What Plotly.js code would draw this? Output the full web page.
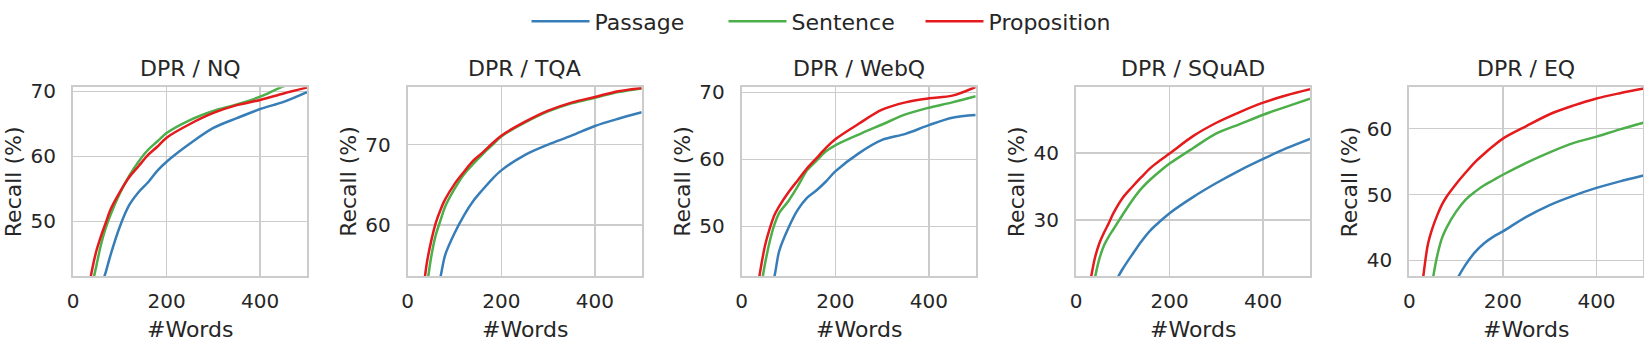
<!DOCTYPE html>
<html>
<head>
<meta charset="utf-8">
<script src="https://cdn.plot.ly/plotly-3.0.1.min.js"></script>
<style>html,body{margin:0;padding:0;background:#fff;}#chart{width:1644px;height:343px;}</style>
</head>
<body>
<div id="chart"></div>
<script>
// ---- data ----
const words = [30, 40, 50, 60, 70, 80, 100, 120, 140, 160, 180, 200, 250, 300, 350, 400, 450, 500];
const seriesNames = ["Passage", "Sentence", "Proposition"];
const panelTitles = ["DPR / NQ", "DPR / TQA", "DPR / WebQ", "DPR / SQuAD", "DPR / EQ"];

const nqPassage     = [30, 34, 37, 40, 42.2, 44.8, 49.2, 52.5, 54.5, 56.0, 57.8, 59.2, 62.0, 64.4, 65.9, 67.3, 68.4, 69.9];
const nqSentence    = [35, 39.8, 43.2, 46.5, 49.0, 51.0, 54.3, 57.0, 59.2, 61.0, 62.3, 63.6, 65.6, 67.0, 68.0, 69.2, 70.8, 71.8];
const nqProposition = [38, 42.3, 45.5, 47.8, 49.8, 51.8, 54.5, 56.8, 58.5, 60.2, 61.5, 62.9, 65.0, 66.7, 67.9, 68.7, 69.7, 70.6];

const tqaPassage     = [44, 47, 49.5, 51.5, 53.6, 56.3, 59.0, 61.2, 63.0, 64.4, 65.7, 66.8, 68.7, 70.0, 71.1, 72.3, 73.2, 74.0];
const tqaSentence    = [47.5, 52.0, 56.0, 58.8, 60.6, 62.3, 64.5, 66.3, 67.6, 68.8, 69.9, 71.0, 72.7, 74.1, 75.1, 75.8, 76.5, 76.95];
const tqaProposition = [50.0, 55.0, 58.0, 60.3, 61.9, 63.2, 65.1, 66.6, 68.0, 69.0, 70.1, 71.1, 72.8, 74.2, 75.2, 75.9, 76.6, 77.0];

const webqPassage     = [33, 36, 38.5, 40.5, 42.6, 46.3, 49.8, 52.5, 54.3, 55.4, 56.7, 58.2, 60.9, 62.9, 63.8, 65.1, 66.2, 66.6];
const webqSentence    = [37, 40.5, 44.5, 47.8, 50.3, 52.0, 53.8, 56.0, 58.4, 59.8, 61.2, 62.1, 63.7, 65.2, 66.7, 67.7, 68.5, 69.4];
const webqProposition = [39, 43.5, 47.2, 49.7, 51.7, 53.0, 55.1, 56.9, 58.7, 60.2, 61.7, 63.0, 65.3, 67.4, 68.5, 69.1, 69.5, 70.8];

const squadPassage     = [14, 16, 17.5, 18.5, 19.3, 20.3, 22.7, 24.8, 26.8, 28.5, 29.8, 31.0, 33.4, 35.5, 37.4, 39.1, 40.7, 42.1];
const squadSentence    = [17.5, 21.2, 24.2, 26.2, 27.5, 28.6, 30.8, 32.9, 34.7, 36.1, 37.3, 38.4, 40.7, 42.9, 44.3, 45.7, 46.9, 48.1];
const squadProposition = [20.5, 24.2, 26.5, 28.1, 29.5, 31.0, 33.3, 34.9, 36.4, 37.8, 38.9, 39.9, 42.5, 44.5, 46.1, 47.5, 48.6, 49.5];

const eqPassage     = [22, 25, 27.5, 29.5, 31.2, 33.0, 36.8, 39.3, 41.2, 42.6, 43.6, 44.4, 46.6, 48.4, 49.8, 51.0, 52.0, 52.9];
const eqSentence    = [28, 32, 37.0, 40.8, 43.4, 45.0, 47.4, 49.2, 50.4, 51.4, 52.2, 53.0, 54.8, 56.4, 57.8, 58.8, 59.9, 60.9];
const eqProposition = [37.6, 42.5, 45.0, 46.9, 48.5, 49.7, 51.6, 53.3, 54.9, 56.2, 57.4, 58.5, 60.4, 62.2, 63.5, 64.6, 65.4, 66.1];

const panelData = [
  [nqPassage, nqSentence, nqProposition],
  [tqaPassage, tqaSentence, tqaProposition],
  [webqPassage, webqSentence, webqProposition],
  [squadPassage, squadSentence, squadProposition],
  [eqPassage, eqSentence, eqProposition]
];
const yRanges = [[41.6, 70.65], [53.7, 77.1], [42.6, 70.75], [21.6, 49.8], [37.6, 66.3]];
const xTicks = [0, 200, 400];

// ---- style / layout ----
const W = 1644, H = 343;
const colors = ["#377eb8", "#4daf4a", "#e41a1c"];
const textColor = "#262626";
const gridColor = "#cccccc";
const font = "DejaVu Sans";
const panelLeft = [73, 407.7, 741.7, 1076, 1409.3];
const panelWidth = 234;
const yDom = [1 - 275.5 / H, 1 - 85 / H];

const traces = [];
const layout = {
  width: W, height: H,
  margin: {l: 0, r: 0, t: 0, b: 0, pad: 0},
  paper_bgcolor: "#ffffff", plot_bgcolor: "#ffffff",
  font: {family: font, color: textColor, size: 20},
  showlegend: true,
  legend: {
    orientation: "h", x: 0.5, xanchor: "center", y: 1 - 18.5 / H, yanchor: "middle",
    font: {family: font, size: 22, color: textColor},
    itemwidth: 58, entrywidth: 124, entrywidthmode: "pixels",
    traceorder: "normal", bgcolor: "rgba(0,0,0,0)"
  },
  annotations: []
};

panelData.forEach((series, p) => {
  const ax = p === 0 ? "" : String(p + 1);
  series.forEach((vals, s) => {
    traces.push({
      x: words, y: vals, type: "scatter", mode: "lines",
      name: seriesNames[s], legendgroup: seriesNames[s], showlegend: p === 0,
      line: {color: colors[s], width: 2.5, shape: "spline", smoothing: 0.9},
      xaxis: "x" + ax, yaxis: "y" + ax, hoverinfo: "x+y+name"
    });
  });
  const axisCommon = {
    showgrid: true, gridcolor: gridColor, gridwidth: 1.5,
    showline: true, linecolor: gridColor, linewidth: 2, mirror: true,
    zeroline: false, ticks: "", tickfont: {family: font, size: 20, color: textColor},
    fixedrange: true
  };
  layout["xaxis" + ax] = Object.assign({}, axisCommon, {
    domain: [panelLeft[p] / W, (panelLeft[p] + panelWidth) / W],
    range: [0, 500], tickvals: xTicks, ticktext: xTicks.map(String),
    anchor: "y" + ax, ticklabelstandoff: 6
  });
  layout["yaxis" + ax] = Object.assign({}, axisCommon, {
    domain: yDom, range: yRanges[p], dtick: 10, tick0: 0,
    anchor: "x" + ax, ticklabelstandoff: 11
  });
  const xr = "x" + ax + " domain", yr = "y" + ax + " domain";
  layout.annotations.push(
    {text: panelTitles[p], xref: xr, yref: yr, x: 0.5, y: 1.1, xanchor: "center", yanchor: "middle",
     showarrow: false, font: {family: font, size: 22, color: textColor}},
    {text: "#Words", xref: xr, yref: yr, x: 0.5, y: -0.283, xanchor: "center", yanchor: "middle",
     showarrow: false, font: {family: font, size: 22, color: textColor}},
    {text: "Recall (%)", xref: xr, yref: yr, x: -59.5 / panelWidth, y: 0.5, xanchor: "center", yanchor: "middle",
     textangle: -90, showarrow: false, font: {family: font, size: 22, color: textColor}}
  );
});

Plotly.newPlot("chart", traces, layout, {displayModeBar: false, staticPlot: true});
</script>
</body>
</html>
